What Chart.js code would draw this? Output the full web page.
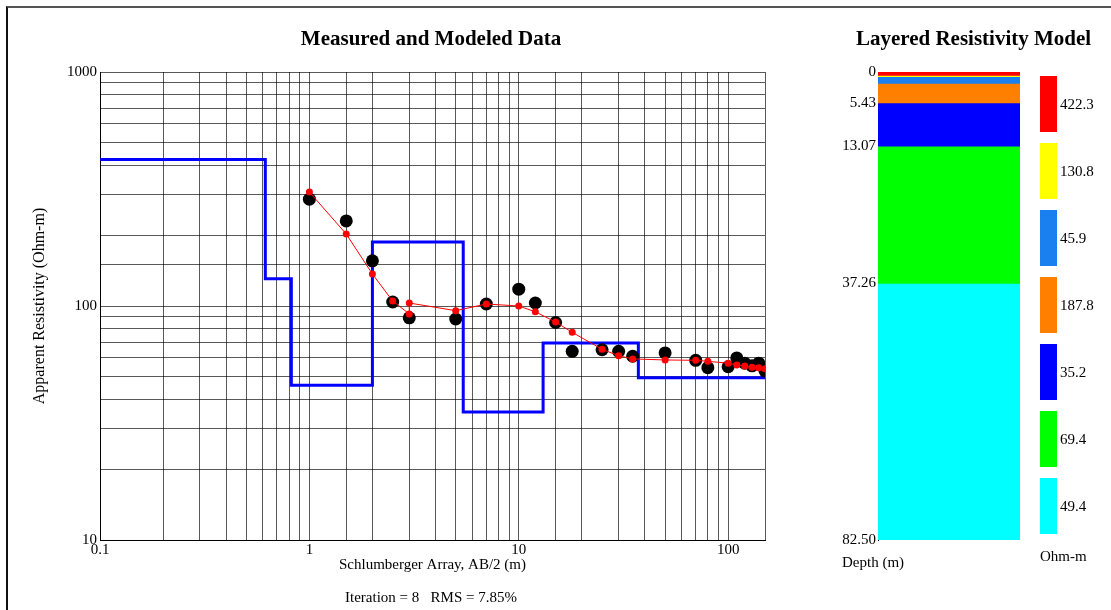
<!DOCTYPE html>
<html>
<head>
<meta charset="utf-8">
<script src="https://cdn.jsdelivr.net/npm/chart.js@4"></script>
<style>
  html, body { margin: 0; padding: 0; background: #fff; overflow: hidden; }
  #wrap { position: relative; width: 1111px; height: 610px; }
  #frame { position: absolute; left: 6px; top: 6px; width: 1105px; height: 604px;
           border-top: 2px solid #555; border-left: 2px solid #111; box-sizing: border-box; }
  #curveChart { position: absolute; left: 0; top: 0; }
  #layerChart { position: absolute; left: 836px; top: 0; }
</style>
</head>
<body>
<div id="wrap">
  <div id="frame"></div>
  <canvas id="curveChart" width="862" height="610"></canvas>
  <canvas id="layerChart" width="275" height="610"></canvas>
</div>
<script>
// sounding data, AB/2 in metres, apparent resistivity in ohm-m
const abHalf   = [1, 1.5, 2, 2.5, 3, 5, 7, 10, 12, 15, 18, 25, 30, 35, 50, 70, 80, 100, 110, 120, 130, 140, 150];
const measured = [286, 231, 156, 104, 89, 88, 102, 118, 103, 85, 64, 65, 64, 61, 63, 58.6, 54.5, 55, 60, 57, 55.5, 57, 52.8];

const modelAB  = [1, 1.5, 2, 2.5, 3, 3, 5, 7, 10, 12, 15, 18, 25, 30, 35, 50, 70, 80, 100, 110, 120, 130, 140, 150];
const modeled  = [307, 203, 137, 105, 92.5, 103, 95.5, 102, 100, 94.5, 85.4, 77.2, 65.3, 61.3, 59.4, 58.8, 58.6, 58, 57, 56, 55.4, 54.7, 54.5, 53.9];

// layered model
const layerRes    = [422.3, 130.8, 45.9, 187.8, 35.2, 69.4, 49.4];
const layerTop    = [0, 0.616, 0.82, 2.0, 5.43, 13.07, 37.26];
const bottomDepth = 82.5;
const layerColors = ['#ff0000', '#ffff00', '#1a80f0', '#ff8000', '#0000ff', '#00ff00', '#00ffff'];

// axes
const xMin = 0.1, xMax = 150;
const yMin = 10, yMax = 1000;
const xTickValues = [0.1, 1, 10, 100];
const xTickLabels = ['0.1', '1', '10', '100'];
const yTickValues = [10, 100, 1000];
const yTickLabels = ['10', '100', '1000'];
const depthTicks  = [0, 5.43, 13.07, 37.26, 82.5];
const depthLabels = ['0', '5.43', '13.07', '37.26', '82.50'];

Chart.defaults.font.family = "'Liberation Serif', 'Times New Roman', serif";
Chart.defaults.color = '#000';

const gridColor = 'rgba(0,0,0,0.65)';
const serif15 = { size: 15 };
const titleFont = { size: 21, weight: 'bold' };

function pickLabel(values, labels, v) {
    const i = values.findIndex(t => Math.abs(t - v) / t < 1e-6);
    return i >= 0 ? labels[i] : '';
}

// blue step line from the layer model
const stepData = layerTop.map((d, i) => ({ x: Math.max(d, xMin), y: layerRes[i] }));
stepData.push({ x: xMax, y: layerRes[layerRes.length - 1] });

const curveCtx = document.getElementById('curveChart').getContext('2d');
const curveChart = new Chart(curveCtx, {
    type: 'line',
    data: {
        datasets: [{
            label: 'Modeled',
            data: modelAB.map((x, i) => ({ x: x, y: modeled[i] })),
            borderColor: '#ff0000',
            borderWidth: 1,
            pointRadius: 3.5,
            pointBackgroundColor: '#ff0000',
            pointBorderWidth: 0,
            order: 1
        }, {
            label: 'Measured',
            data: abHalf.map((x, i) => ({ x: x, y: measured[i] })),
            showLine: false,
            pointRadius: 6.5,
            pointBackgroundColor: '#000',
            pointBorderWidth: 0,
            order: 2
        }, {
            label: 'Model',
            data: stepData,
            stepped: true,
            borderColor: '#0000ff',
            borderWidth: 3,
            pointRadius: 0,
            order: 3
        }]
    },
    options: {
        responsive: false,
        animation: false,
        layout: { padding: 0 },
        plugins: {
            legend: { display: false },
            tooltip: { enabled: false },
            title: {
                display: true,
                text: 'Measured and Modeled Data',
                font: titleFont,
                color: '#000',
                padding: { top: 27.4, bottom: 19.4 }
            },
            subtitle: {
                display: true,
                position: 'bottom',
                text: 'Iteration = 8   RMS = 7.85%',
                font: serif15,
                color: '#000',
                padding: { top: 0, bottom: 3 }
            }
        },
        scales: {
            x: {
                type: 'logarithmic',
                min: xMin,
                max: xMax,
                grid: { color: gridColor, drawTicks: false },
                border: { color: '#000' },
                ticks: {
                    autoSkip: false,
                    maxRotation: 0,
                    padding: 1,
                    font: serif15,
                    callback: v => pickLabel(xTickValues, xTickLabels, v)
                },
                title: {
                    display: true,
                    text: 'Schlumberger Array, AB/2 (m)',
                    font: serif15,
                    padding: { top: 0, bottom: 15 }
                },
                afterFit: s => { s.height = 49; }
            },
            y: {
                type: 'logarithmic',
                min: yMin,
                max: yMax,
                grid: { color: gridColor, drawTicks: false },
                border: { color: '#000' },
                ticks: {
                    autoSkip: false,
                    padding: 3,
                    font: serif15,
                    callback: v => pickLabel(yTickValues, yTickLabels, v)
                },
                title: {
                    display: true,
                    text: 'Apparent Resistivity (Ohm-m)',
                    font: { size: 16 },
                    padding: { top: 30, bottom: 0 }
                },
                afterFit: s => { s.width = 100; }
            },
            yR: {
                position: 'right',
                grid: { display: false },
                ticks: { display: false },
                border: { display: false },
                afterFit: s => { s.width = 97; }
            }
        }
    }
});

// colour key + captions for the layer column
const layerKey = {
    id: 'layerKey',
    afterDraw(chart) {
        const { ctx, chartArea } = chart;
        const x = chartArea.right + 20;
        ctx.save();
        ctx.font = "15px 'Liberation Serif', 'Times New Roman', serif";
        ctx.textBaseline = 'middle';
        layerRes.forEach((r, i) => {
            const y = chartArea.top + 4 + i * 67;
            ctx.fillStyle = layerColors[i];
            ctx.fillRect(x, y, 17, 56);
            ctx.fillStyle = '#000';
            ctx.fillText(r.toFixed(1), x + 20, y + 29);
        });
        ctx.fillText('Ohm-m', x, chartArea.bottom + 17);
        ctx.fillText('Depth (m)', 6, chartArea.bottom + 23);
        ctx.restore();
    }
};

const thickness = layerTop.map((d, i) => (i + 1 < layerTop.length ? layerTop[i + 1] : bottomDepth) - d);

const layerCtx = document.getElementById('layerChart').getContext('2d');
const layerChart = new Chart(layerCtx, {
    type: 'bar',
    data: {
        labels: [''],
        datasets: layerRes.map((r, i) => ({
            label: r.toFixed(1),
            data: [thickness[i]],
            backgroundColor: layerColors[i],
            borderWidth: 0,
            barPercentage: 1,
            categoryPercentage: 1
        }))
    },
    options: {
        responsive: false,
        animation: false,
        layout: { padding: { bottom: 70 } },
        plugins: {
            legend: { display: false },
            tooltip: { enabled: false },
            title: {
                display: true,
                text: 'Layered Resistivity Model',
                font: titleFont,
                color: '#000',
                padding: { top: 27.4, bottom: 19.4 }
            }
        },
        scales: {
            x: { display: false, stacked: true },
            y: {
                stacked: true,
                reverse: true,
                min: 0,
                max: bottomDepth,
                grid: { display: false, drawTicks: false },
                border: { color: '#000' },
                afterBuildTicks: s => { s.ticks = depthTicks.map(v => ({ value: v })); },
                ticks: {
                    padding: 2,
                    font: serif15,
                    callback: (v, i) => depthLabels[i]
                },
                afterFit: s => { s.width = 42; }
            },
            yR: {
                position: 'right',
                grid: { display: false },
                ticks: { display: false },
                border: { display: false },
                afterFit: s => { s.width = 91; }
            }
        }
    },
    plugins: [layerKey]
});
</script>
</body>
</html>
